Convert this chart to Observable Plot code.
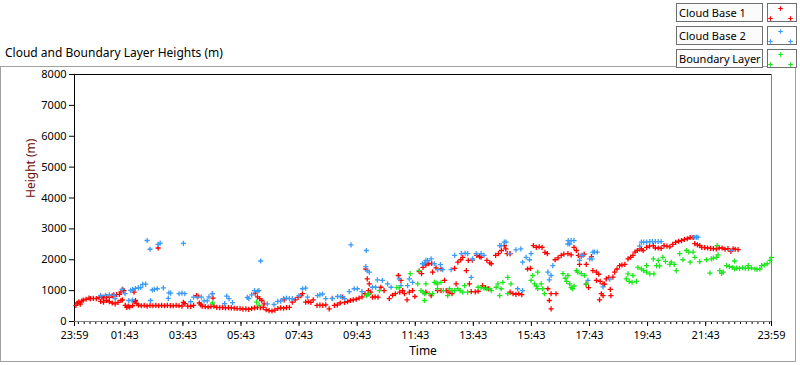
<!DOCTYPE html>
<html>
<head>
<meta charset="utf-8">
<script src="https://cdn.jsdelivr.net/npm/d3@7"></script>
<script src="https://cdn.jsdelivr.net/npm/@observablehq/plot@0.6"></script>
<style>
  html, body { margin: 0; padding: 0; background: #fff; }
  #wrap { position: relative; width: 800px; height: 365px; overflow: hidden; font-family: "Noto Sans", sans-serif; }
  #chart { position: absolute; left: 0; top: 0; }
  .frame { position: absolute; left: 0px; top: 66px; width: 796px; height: 296px; border: 1px solid #a0a0a0; box-sizing: border-box; }
  .title { position: absolute; left: 5px; top: 44px; font-size: 12px; color: #000; white-space: nowrap; }
  .lab { position: absolute; left: 676px; width: 87px; height: 19px; border: 1px solid #6e6e6e; box-sizing: border-box; background: #fbfbfb; font-size: 11px; line-height: 17px; padding-left: 2px; white-space: nowrap; overflow: hidden; }
  .sym { position: absolute; left: 767px; width: 30px; height: 19px; border: 1px solid #6e6e6e; box-sizing: border-box; background: #fff; }
  .sym svg { position: absolute; left: 0; top: 0; }
</style>
</head>
<body>
<div id="wrap">
  <div class="frame"></div>
  <div id="chart"></div>
  <div class="title">Cloud and Boundary Layer Heights (m)</div>
  <div id="legend"></div>
</div>
<script>
// ---- Data: [hours since 23:59, height in m] ----
const cloudBase1 = [
  [0.05,520],[0.1,600],[0.15,640],[0.2,560],[0.25,660],[0.3,690],[0.4,720],[0.5,760],[0.55,740],[0.65,750],
  [0.75,740],[0.85,780],[0.9,650],[0.95,790],[1.0,630],[1.0,770],[1.1,680],[1.1,800],[1.2,640],[1.2,780],
  [1.3,600],[1.3,830],[1.35,860],[1.4,570],[1.45,870],[1.5,620],[1.55,880],[1.6,960],[1.6,680],[1.65,700],
  [1.66,1040],[1.7,1000],[1.75,520],[1.8,460],[1.85,500],[1.9,470],[2.0,510],[2.05,950],[2.05,640],[2.1,680],
  [2.15,580],[2.2,530],[2.3,510],[2.4,520],[2.5,500],[2.6,520],[2.7,510],[2.8,520],[2.88,2380],[2.9,510],
  [3.0,520],[3.1,510],[3.2,520],[3.3,515],[3.4,510],[3.5,520],[3.6,510],[3.7,500],[3.75,620],[3.8,580],
  [3.9,500],[4.0,490],[4.1,520],[4.2,840],[4.25,820],[4.3,600],[4.35,540],[4.4,500],[4.5,480],[4.6,470],
  [4.7,480],[4.75,900],[4.77,760],[4.8,500],[4.9,460],[5.0,450],[5.1,460],[5.2,440],[5.3,450],[5.4,440],
  [5.5,430],[5.6,420],[5.7,420],[5.8,400],[5.9,410],[6.0,390],[6.1,420],[6.2,440],[6.22,920],[6.3,800],
  [6.3,460],[6.38,740],[6.4,450],[6.45,680],[6.5,460],[6.53,570],[6.6,380],[6.7,350],[6.8,340],[6.9,370],
  [7.0,420],[7.1,440],[7.2,430],[7.22,700],[7.3,450],[7.4,460],[7.5,630],[7.6,700],[7.7,780],[7.8,840],
  [7.85,900],[7.96,630],[8.05,640],[8.14,620],[8.22,700],[8.35,520],[8.45,530],[8.55,520],[8.65,540],[8.77,410],
  [8.88,750],[8.95,520],[9.05,540],[9.15,600],[9.23,790],[9.3,620],[9.4,640],[9.5,680],[9.6,700],[9.7,720],
  [9.8,760],[9.9,800],[10.0,900],[10.03,1700],[10.08,1380],[10.12,1000],[10.15,1220],[10.2,950],[10.26,790],[10.35,800],
  [10.45,790],[10.55,1110],[10.66,1000],[10.84,740],[10.95,850],[11.05,900],[11.15,1490],[11.2,950],[11.24,1330],[11.3,1000],
  [11.36,900],[11.45,700],[11.53,950],[11.64,1000],[11.72,810],[11.87,1620],[11.95,1550],[12.0,1750],[12.1,1830],[12.1,950],
  [12.2,1870],[12.28,840],[12.3,1880],[12.33,1600],[12.45,1740],[12.5,1000],[12.62,1700],[12.62,1000],[12.74,1330],[12.8,1000],
  [12.9,950],[13.0,900],[13.09,1720],[13.14,1220],[13.2,1920],[13.3,2000],[13.37,2080],[13.49,1650],[13.56,1980],[13.6,1220],
  [13.66,970],[13.7,1990],[13.8,960],[13.85,2140],[13.9,980],[13.95,2100],[14.0,2080],[14.05,1160],[14.15,1100],[14.2,1980],
  [14.25,1060],[14.3,1900],[14.35,1870],[14.5,2140],[14.6,2200],[14.7,2300],[14.8,2460],[14.85,2350],[14.9,2200],[15.0,2200],
  [15.0,950],[15.1,900],[15.2,880],[15.3,900],[15.4,870],[15.6,1700],[15.7,1720],[15.8,2460],[15.9,2400],[16.0,2420],
  [16.1,2400],[16.2,2240],[16.28,2200],[16.3,1060],[16.35,680],[16.41,900],[16.41,410],[16.58,900],[16.55,2000],[16.65,2060],
  [16.76,2140],[16.85,2180],[16.99,2200],[17.1,2160],[17.2,2400],[17.28,2300],[17.35,2140],[17.39,1850],[17.45,2120],[17.55,2180],
  [17.62,1850],[17.62,1210],[17.7,1100],[17.8,2100],[17.85,1650],[17.97,1600],[17.97,1330],[18.05,1530],[18.1,1300],[18.14,900],
  [18.2,1210],[18.2,840],[18.08,700],[18.25,1210],[18.31,1380],[18.4,1420],[18.45,1040],[18.47,840],[18.54,1440],[18.6,1600],
  [18.68,1700],[18.77,1810],[18.85,1830],[18.95,1850],[19.06,2030],[19.15,2080],[19.23,2140],[19.3,2250],[19.38,2300],[19.46,2350],
  [19.52,2350],[19.58,2300],[19.7,2400],[19.8,2440],[19.93,2460],[20.0,2380],[20.1,2380],[20.2,2370],[20.3,2460],[20.4,2440],
  [20.5,2420],[20.6,2500],[20.7,2560],[20.8,2600],[20.9,2620],[21.0,2660],[21.1,2680],[21.2,2720],[21.3,2720],[21.36,2520],
  [21.45,2480],[21.53,2460],[21.6,2400],[21.7,2390],[21.8,2380],[21.9,2370],[22.0,2360],[22.1,2350],[22.2,2380],[22.3,2380],
  [22.4,2340],[22.5,2360],[22.6,2270],[22.68,2350],[22.75,2340],[22.85,2330]
];
const cloudBase2 = [
  [0.9,840],[1.07,850],[1.2,860],[1.36,850],[1.4,740],[1.64,1040],[1.74,900],[1.87,680],[1.93,1010],[1.99,690],
  [2.0,1030],[2.1,1070],[2.2,1090],[2.28,1100],[2.35,1200],[2.45,1210],[2.5,2624],[2.6,2340],[2.62,680],[2.68,1020],
  [2.75,1040],[2.85,1060],[2.88,2500],[2.95,2540],[3.06,1090],[3.23,750],[3.25,930],[3.31,920],[3.6,900],[3.7,920],
  [3.75,2530],[3.8,900],[4.0,640],[4.1,790],[4.23,790],[4.37,790],[4.46,670],[4.57,670],[4.63,800],[4.75,900],
  [5.17,580],[5.24,820],[5.32,740],[5.44,610],[5.95,780],[6.0,740],[6.1,860],[6.2,1000],[6.3,980],[6.35,1000],
  [6.41,1960],[6.64,570],[6.87,550],[7.0,650],[7.1,660],[7.2,740],[7.3,760],[7.4,740],[7.5,740],[7.73,840],
  [7.85,1060],[7.96,1080],[8.02,790],[8.37,840],[8.45,860],[8.54,890],[8.65,740],[8.88,740],[9.06,810],[9.17,810],
  [9.3,740],[9.46,970],[9.52,2480],[9.63,1060],[9.74,1060],[9.9,970],[10.03,1780],[10.05,2300],[10.08,1650],[10.15,1600],
  [10.26,1110],[10.37,1110],[10.43,1350],[10.6,1330],[10.78,1220],[10.9,1110],[11.18,1380],[11.24,1160],[11.47,1160],[11.53,1380],
  [11.64,1270],[11.98,1870],[12.05,1900],[12.1,1980],[12.16,1970],[12.28,2030],[12.39,1870],[12.51,1680],[12.6,1840],[12.68,1680],
  [12.97,1680],[13.09,2140],[13.32,2200],[13.45,2210],[13.54,2200],[13.66,1430],[13.71,2030],[13.83,2200],[14.0,2200],[14.1,2140],
  [14.64,2460],[14.69,2460],[14.8,2570],[14.86,2570],[14.98,2200],[15.2,2320],[15.26,1060],[15.37,2350],[15.43,1920],[15.43,1000],
  [15.55,2080],[15.67,2000],[15.72,2200],[16.3,1600],[16.35,1350],[16.41,1490],[16.47,1810],[16.99,2510],[17.0,2620],[17.05,2510],
  [17.1,2620],[17.2,2620],[17.39,1980],[17.45,2140],[17.51,2140],[17.68,1330],[17.74,2030],[17.82,2030],[17.85,2250],[17.9,2250],
  [18.0,2250],[18.2,1120],[18.43,1370],[19.46,2440],[19.52,2570],[19.6,2570],[19.7,2570],[19.81,2590],[19.9,2590],[20.0,2590],
  [20.1,2590],[20.2,2590],[21.36,2730],[21.42,2730],[21.47,2730],[22.62,2300]
];
const boundaryLayer = [
  [4.75,600],[6.27,630],[6.36,520],[10.05,840],[10.1,880],[10.15,900],[10.5,1000],[11.1,1100],[11.18,1100],[11.56,1550],
  [11.82,1220],[11.87,1650],[11.93,1000],[12.0,950],[12.05,900],[12.05,680],[12.1,1220],[12.22,900],[12.33,900],[12.39,1270],
  [12.45,1250],[12.5,1220],[12.5,1060],[12.62,1270],[12.7,1000],[12.85,840],[12.91,1060],[13.0,1000],[13.09,1000],[13.2,1060],
  [13.28,1000],[13.37,950],[13.43,1160],[13.54,950],[13.9,1110],[14.0,1100],[14.1,1080],[14.2,1060],[14.3,1060],[14.35,1000],
  [14.52,1110],[14.58,1220],[14.64,840],[14.69,1060],[14.75,1270],[14.92,1430],[14.92,900],[15.03,1220],[15.72,1330],[15.78,1490],
  [15.84,1220],[15.9,1150],[15.95,1060],[15.95,1600],[16.07,1220],[16.12,1060],[16.18,900],[16.82,1550],[16.9,1400],[16.95,1300],
  [16.99,1490],[17.05,1220],[17.1,1100],[17.15,1060],[17.2,1150],[17.28,1650],[17.33,1600],[17.45,1550],[17.56,1490],[17.62,1210],
  [19.0,1380],[19.06,1540],[19.1,1300],[19.2,1270],[19.23,1490],[19.35,1300],[19.4,1750],[19.52,1700],[19.6,1650],[19.7,1600],
  [19.7,1810],[19.81,1540],[19.93,2030],[19.95,1540],[20.04,1810],[20.1,1980],[20.15,1800],[20.26,2080],[20.35,1950],[20.5,1850],
  [20.55,1920],[20.65,1850],[20.72,1650],[20.84,2200],[20.95,2000],[21.07,2300],[21.15,2250],[21.2,1920],[21.3,2250],[21.36,2080],
  [21.53,1940],[21.76,2000],[21.88,1570],[21.93,2030],[22.0,2050],[22.1,2080],[22.13,2460],[22.16,2160],[22.22,1650],[22.28,1560],
  [22.34,1600],[22.45,1810],[22.55,1780],[22.65,1750],[22.73,1700],[22.73,1960],[22.8,1730],[22.9,1720],[23.0,1740],[23.1,1730],
  [23.2,1720],[23.2,1810],[23.31,1740],[23.43,1700],[23.5,1690],[23.6,1700],[23.66,1810],[23.75,1830],[23.85,1870],[23.95,1980],
  [24.0,2080]
];
const timeTickHours = [0, 1.7333, 3.7333, 5.7333, 7.7333, 9.7333, 11.7333, 13.7333, 15.7333, 17.7333, 19.7333, 21.7333, 24];
const timeTickLabels = ["23:59","01:43","03:43","05:43","07:43","09:43","11:43","13:43","15:43","17:43","19:43","21:43","23:59"];
const heightTicks = [0,1000,2000,3000,4000,5000,6000,7000,8000];
const seriesNames = ["Cloud Base 1","Cloud Base 2","Boundary Layer"];
const seriesColors = ["#ff0000","#3c9cf5","#1ee61e"];

// minor ticks every 12 minutes aligned to 01:43
const minorTicks = d3.range(-8, 112).map(k => 1.7333 + k * 0.2).filter(v => v >= 0 && v <= 24);

const rows = [];
[cloudBase1, cloudBase2, boundaryLayer].forEach((arr, i) => arr.forEach(([h, v]) => rows.push({h, v, s: seriesNames[i]})));

const chart = Plot.plot({
  width: 800,
  height: 365,
  marginLeft: 74,
  marginRight: 29,
  marginTop: 74,
  marginBottom: 44,
  style: {fontFamily: "Noto Sans, sans-serif", fontSize: "11px", background: "transparent", color: "#000"},
  x: {domain: [0, 24], axis: null},
  y: {domain: [0, 8000], axis: null},
  color: {domain: seriesNames, range: seriesColors},
  marks: [
    Plot.axisY({ticks: heightTicks, tickSize: 5, tickPadding: 3, tickFormat: d => String(d), label: null, stroke: "#000"}),
    Plot.axisX({ticks: minorTicks, tickSize: 3, tickFormat: null, text: null, label: null, stroke: "#000"}),
    Plot.axisX({ticks: timeTickHours, tickSize: 5, tickPadding: 5, tickFormat: (d, i) => timeTickLabels[i], label: null, stroke: "#000"}),
    Plot.ruleY([0], {stroke: "#808080"}),
    Plot.ruleX([24], {stroke: "#808080"}),
    Plot.ruleY([8000], {stroke: "#000"}),
    Plot.ruleX([0], {stroke: "#000"}),
    Plot.dot(rows, {x: "h", y: "v", stroke: "s", symbol: "plus", r: 1.8, strokeWidth: 1.3, fill: "none"}),
    Plot.text(["Height (m)"], {frameAnchor: "left", dx: -43, rotate: -90, text: d => d, fill: "#6b0f0f", fontSize: 12}),
    Plot.text(["Time"], {frameAnchor: "bottom", dy: 33, text: d => d, fill: "#000", fontSize: 12})
  ]
});
document.getElementById("chart").appendChild(chart);

// Legend (HTML boxes), symbols drawn with Plot
const legend = document.getElementById("legend");
const legendTops = [3, 26, 49];
seriesNames.forEach((name, i) => {
  const lab = document.createElement("div");
  lab.className = "lab";
  lab.style.top = legendTops[i] + "px";
  lab.textContent = name;
  legend.appendChild(lab);
  const sym = document.createElement("div");
  sym.className = "sym";
  sym.style.top = legendTops[i] + "px";
  const s = Plot.plot({
    width: 28, height: 17, margin: 0,
    x: {domain: [0, 28], axis: null}, y: {domain: [17, 0], axis: null},
    style: {background: "transparent"},
    marks: [Plot.dot([[12,4],[2,14],[22,14]], {x: d => d[0], y: d => d[1], symbol: "plus", r: 1.6, strokeWidth: 1.2, stroke: seriesColors[i], fill: "none"})]
  });
  sym.appendChild(s);
  legend.appendChild(sym);
});
</script>
</body>
</html>
